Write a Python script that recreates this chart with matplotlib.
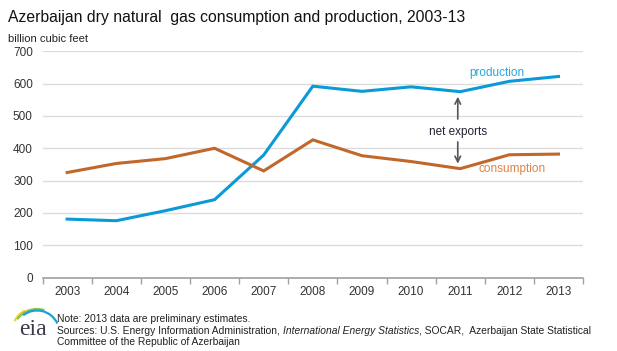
import matplotlib.pyplot as plt
import numpy as np
from matplotlib.patches import Arc

years = ["2003", "2004", "2005", "2006", "2007", "2008", "2009", "2010", "2011", "2012", "2013"]
production = [181, 176, 207, 241, 379, 592, 576, 590, 575, 607, 622]
consumption = [325, 353, 368, 400, 330, 426, 377, 359, 337, 380, 382]
y_ticks = [0, 100, 200, 300, 400, 500, 600, 700]

blue = "#0a9ad8"
orange = "#c2672a"

plt.rcParams['font.family'] = ['Liberation Sans', 'DejaVu Sans']

fig = plt.figure(figsize=(6.17, 3.51), dpi=100)
ax = fig.add_axes([0.069, 0.209, 0.876, 0.645])

x_pos = np.arange(len(years))
ax.plot(x_pos, production, color=blue, linewidth=2.2, solid_joinstyle="miter")
ax.plot(x_pos, consumption, color=orange, linewidth=2.2, solid_joinstyle="miter")

# axes styling
ax.set_xlim(-0.5, len(years) - 0.5)
ax.set_ylim(0, 700)
ax.set_yticks(y_ticks)
ax.set_yticklabels([str(v) for v in y_ticks], fontsize=8.5, color="#333333")
ax.yaxis.grid(True, color="#dcdcdc", linewidth=1.0)
ax.set_axisbelow(True)
ax.tick_params(axis="y", length=0, pad=7)
for side in ["left", "right", "top"]:
    ax.spines[side].set_visible(False)
ax.spines["bottom"].set_color("#a0a0a0")
ax.spines["bottom"].set_linewidth(1.2)

# category labels centred, tick marks between categories
ax.set_xticks(np.arange(len(years) + 1) - 0.5)
ax.set_xticklabels([])
ax.tick_params(axis="x", length=4, color="#a0a0a0", width=1)
ax.set_xticks(x_pos, minor=True)
ax.set_xticklabels(years, minor=True, fontsize=8.5, color="#333333")
ax.tick_params(axis="x", which="minor", length=0, pad=6)

# annotations
ax.text(8.75, 634, "production", color="#29a6dd", fontsize=8.5, ha="center", va="center")
ax.text(9.05, 336, "consumption", color="#de8246", fontsize=8.5, ha="center", va="center")
ax.text(7.95, 451, "net exports", color="#222233", fontsize=8.5, ha="center", va="center")
ax.annotate("", xy=(7.95, 568), xytext=(7.95, 482),
            arrowprops=dict(arrowstyle="->", color="#555555", lw=1.2))
ax.annotate("", xy=(7.95, 344), xytext=(7.95, 428),
            arrowprops=dict(arrowstyle="->", color="#555555", lw=1.2))

# titles
fig.text(0.013, 0.950, "Azerbaijan dry natural  gas consumption and production, 2003-13",
         fontsize=11.3, color="#111111", va="center", ha="left")
fig.text(0.013, 0.890, "billion cubic feet", fontsize=8, color="#222222", va="center", ha="left")

# footer notes
fs = 7.35
x0 = 0.092
fig.text(x0, 0.090, "Note: 2013 data are preliminary estimates.", fontsize=fs, color="#222222", va="center")
t1 = fig.text(x0, 0.058, "Sources: U.S. Energy Information Administration, ", fontsize=fs, color="#222222", va="center")
fig.canvas.draw()
bb = t1.get_window_extent()
t2 = fig.text(bb.x1 / fig.bbox.width, 0.058, "International Energy Statistics", fontsize=fs,
              style="italic", color="#222222", va="center")
fig.canvas.draw()
bb2 = t2.get_window_extent()
fig.text(bb2.x1 / fig.bbox.width, 0.058, ", SOCAR,  Azerbaijan State Statistical", fontsize=fs,
         color="#222222", va="center")
fig.text(x0, 0.026, "Committee of the Republic of Azerbaijan", fontsize=fs, color="#222222", va="center")

# eia logo (units are pixels from the bottom-left corner)
logo = fig.add_axes([0.0, 0.0, 58 / 617, 52 / 351])
logo.set_xlim(0, 58)
logo.set_ylim(0, 52)
logo.axis("off")
logo.text(33, 16, "eia", fontsize=17, family="Liberation Serif", color="#3b3b48",
          ha="center", va="baseline")
for r, c, t1_, t2_ in [(25.5, "#f2d13a", 118, 152), (24, "#8cc640", 72, 145), (22.5, "#1aa0d8", 25, 128)]:
    logo.add_patch(Arc((37, 18), 2 * r, 2 * r, theta1=t1_, theta2=t2_, color=c, lw=1.6))

fig.savefig("out.png", dpi=100)
